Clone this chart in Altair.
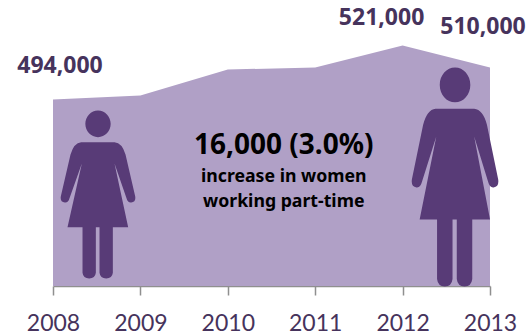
import altair as alt
import pandas as pd

# Women working part-time
years = [2008, 2009, 2010, 2011, 2012, 2013]
workers = [494000, 496000, 509000, 510000, 521000, 510000]

label_text = ["494,000", "521,000", "510,000"]
label_year = [2008, 2012, 2013]
label_value = [494000, 521000, 510000]
label_dx = [7, -21, -7]
label_dy = [-34, -28, -41]

note_text = ["16,000 (3.0%)", "increase in women", "working part-time"]
note_year = [2010.64, 2010.64, 2010.64]
note_value = [471000, 455500, 443000]
note_size = [28, 17.7, 17.7]

AREA = "#b0a0c6"
FIGURE = "#583b77"
LABEL = "#46335c"
FONT = "Lato"
BOLD_FONT = "Noto Sans"


def woman(stretch=1.0):
    """Pictogram of a woman as a symbol path, spanning -1..1 in height."""
    def p(x, y):
        return f"{(x - 295.5) / 252 * stretch:.4f} {(y - 585) / 252:.4f}"

    rx = 38 / 252 * stretch * (1.04 if stretch < 1 else 1)
    ry = 40 / 252
    half = 38 * (rx / (38 / 252 * stretch))
    head = (
        f"M{p(295.5 - half, 373)}"
        f"A{rx:.4f} {ry:.4f} 0 1 1 {p(295.5 + half, 373)}"
        f"A{rx:.4f} {ry:.4f} 0 1 1 {p(295.5 - half, 373)}Z"
    )
    body = (
        f"M{p(245, 428)}L{p(345, 428)}"
        f"Q{p(368, 430)} {p(378, 465)}"
        f"L{p(407, 590)}Q{p(410, 608)} {p(395, 609)}Q{p(385, 610)} {p(381, 596)}"
        f"L{p(345, 492)}L{p(386, 683)}L{p(340, 683)}L{p(340, 820)}"
        f"Q{p(338, 837)} {p(320, 837)}Q{p(302, 837)} {p(300, 820)}"
        f"L{p(300, 683)}L{p(289, 683)}L{p(289, 820)}"
        f"Q{p(287, 837)} {p(269, 837)}Q{p(251, 837)} {p(249, 820)}"
        f"L{p(249, 683)}L{p(204, 683)}L{p(247, 492)}L{p(210, 596)}"
        f"Q{p(206, 610)} {p(196, 609)}Q{p(181, 608)} {p(184, 590)}"
        f"L{p(213, 465)}Q{p(223, 430)} {p(245, 428)}Z"
    )
    return head + body


x_scale = alt.Scale(domain=[2008, 2013], nice=False)
y_scale = alt.Scale(domain=[400750, 543750], nice=False, zero=False)

series = pd.DataFrame({"year": years, "workers": workers})
labels = pd.DataFrame(
    {"text": label_text, "year": label_year, "workers": label_value,
     "dx": label_dx, "dy": label_dy}
)
notes = pd.DataFrame(
    {"text": note_text, "year": note_year, "workers": note_value, "size": note_size}
)

area = (
    alt.Chart(series)
    .mark_area(color=AREA, opacity=1, clip=True)
    .encode(
        x=alt.X(
            "year:Q",
            scale=x_scale,
            title=None,
            axis=alt.Axis(
                values=years,
                format="d",
                grid=False,
                domainColor="#8f8f8f",
                domainWidth=1.5,
                tickColor="#8f8f8f",
                tickWidth=1.5,
                tickSize=9,
                labelColor=LABEL,
                labelFont=FONT,
                labelFontSize=23,
                labelPadding=17,
                labelFlush=False,
                labelOverlap=False,
            ),
        ),
        y=alt.Y("workers:Q", scale=y_scale, axis=None),
    )
)

small_figure = (
    alt.Chart(pd.DataFrame({"year": [2008.515], "workers": [446500]}))
    .mark_point(shape=woman(), filled=True, color=FIGURE, opacity=1, size=168**2, strokeWidth=0)
    .encode(x=alt.X("year:Q", scale=x_scale), y=alt.Y("workers:Q", scale=y_scale))
)

large_figure = (
    alt.Chart(pd.DataFrame({"year": [2012.6], "workers": [455250]}))
    .mark_point(shape=woman(0.89), filled=True, color=FIGURE, opacity=1, size=219**2, strokeWidth=0)
    .encode(x=alt.X("year:Q", scale=x_scale), y=alt.Y("workers:Q", scale=y_scale))
)

layers = [area, small_figure, large_figure]

for row in labels.to_dict("records"):
    layers.append(
        alt.Chart(pd.DataFrame([row]))
        .mark_text(font=BOLD_FONT, fontWeight="bold", fontSize=23, color=LABEL,
                   dx=row["dx"], dy=row["dy"])
        .encode(x=alt.X("year:Q", scale=x_scale), y=alt.Y("workers:Q", scale=y_scale), text="text:N")
    )

for row in notes.to_dict("records"):
    layers.append(
        alt.Chart(pd.DataFrame([row]))
        .mark_text(font=BOLD_FONT, fontWeight="bold", fontSize=row["size"], color="#000000")
        .encode(x=alt.X("year:Q", scale=x_scale), y=alt.Y("workers:Q", scale=y_scale), text="text:N")
    )

chart = (
    alt.layer(*layers)
    .properties(
        width=437,
        height=286,
        autosize=alt.AutoSizeParams(type="none"),
        padding={"left": 53, "top": 0, "right": 41, "bottom": 49},
        background="white",
    )
    .configure_view(stroke=None)
)

chart.save("out.html", embed_options={"renderer": "svg", "actions": False})
